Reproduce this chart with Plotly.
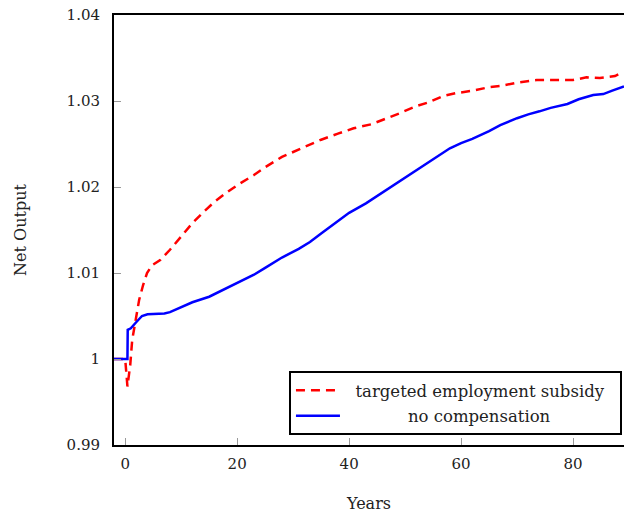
import plotly.graph_objects as go

years_subsidy = [-2, 0, 0.4, 0.9, 1.25, 1.8, 2.5, 3.2, 3.9, 4.8, 6.25, 8, 10, 12, 14, 16, 18, 20, 23, 25, 28,
                 30.7, 32.4, 35, 38, 40.8, 44, 46, 49, 52, 54, 56.8, 59, 62, 65, 67, 70, 73.5, 77, 80,
                 82.4, 84.8, 87.5, 88.4, 89.1]
output_subsidy = [1.0, 1.0, 0.9968, 0.9993, 1.0022, 1.0045, 1.0069, 1.0086, 1.0100, 1.0109, 1.0115, 1.0127,
                  1.0143, 1.0158, 1.0171, 1.0183, 1.0193, 1.0202, 1.0214, 1.0223, 1.0235,
                  1.0243, 1.02477, 1.0255, 1.0262, 1.02683, 1.0273, 1.0278, 1.02857, 1.0294, 1.0298,
                  1.03058, 1.0309, 1.0312, 1.0316, 1.03174, 1.03213, 1.03244, 1.03244, 1.03244,
                  1.03275, 1.03267, 1.0329, 1.0332, 1.0332]

years_nocomp = [-2, 0.4, 0.45, 1, 2, 3, 4, 5, 7, 8, 10, 12, 15, 18, 20, 23, 25, 28, 31, 33, 35, 38, 40,
                43, 46, 48.5, 50, 52.7, 55, 58, 60, 62, 65, 67, 70, 72, 74, 76, 79, 81, 83.6, 85.4,
                87, 88, 89.1]
output_nocomp = [1.0, 1.0, 1.0034, 1.00357, 1.0043, 1.0050, 1.0052, 1.00525, 1.0053, 1.00545, 1.0060,
                 1.0066, 1.00724, 1.0082, 1.0088, 1.0098, 1.0106, 1.0118, 1.0128, 1.0136, 1.0146,
                 1.0160, 1.0170, 1.0181, 1.0194, 1.0204, 1.0211, 1.0222, 1.0232, 1.0245, 1.0251,
                 1.0256, 1.0265, 1.0272, 1.0280, 1.02845, 1.0288, 1.0292, 1.02965, 1.0302, 1.0307,
                 1.0308, 1.0312, 1.03147, 1.0317]

x_ticks = [0, 20, 40, 60, 80]
y_ticks = [0.99, 1.0, 1.01, 1.02, 1.03, 1.04]
y_tick_labels = ["0.99", "1", "1.01", "1.02", "1.03", "1.04"]

FONT = "DejaVu Serif"
NB = "\u00a0"

fig = go.Figure()
fig.add_trace(go.Scatter(
    x=years_subsidy, y=output_subsidy, mode="lines",
    name=NB * 2 + "targeted employment subsidy" + NB * 2, legendgroup="a",
    line=dict(color="#ff0000", width=2.5, dash="9px,6px"),
))
fig.add_trace(go.Scatter(
    x=years_nocomp, y=output_nocomp, mode="lines",
    name=NB * 12 + "no compensation", legendgroup="b",
    line=dict(color="#0000ff", width=2.5),
))

fig.update_layout(
    width=624, height=514,
    margin=dict(l=114, r=0, t=15, b=69),
    paper_bgcolor="white", plot_bgcolor="white",
    font=dict(family=FONT, size=15, color="#222"),
    showlegend=True,
    legend=dict(
        x=0.996, y=0.023, xanchor="right", yanchor="bottom",
        bordercolor="black", borderwidth=2, bgcolor="white",
        font=dict(family=FONT, size=16.5, color="#222"),
        traceorder="grouped", tracegroupgap=1, itemwidth=44,
    ),
)
fig.update_xaxes(
    range=[-2, 89.1], tickvals=x_ticks, ticks="inside", ticklen=7,
    tickcolor="#999", tickwidth=1, showgrid=False, zeroline=False,
    showline=True, linecolor="black", linewidth=2, mirror=True,
    title=dict(text="Years", font=dict(family=FONT, size=16), standoff=26),
    tickfont=dict(family=FONT, size=15), ticklabelstandoff=4,
)
fig.update_yaxes(
    range=[0.99, 1.04], tickvals=y_ticks, ticktext=y_tick_labels, ticks="inside",
    ticklen=7, tickcolor="#999", tickwidth=1, showgrid=False, zeroline=False,
    showline=True, linecolor="black", linewidth=2, mirror=False,
    title=dict(text="Net Output", font=dict(family=FONT, size=16), standoff=36),
    tickfont=dict(family=FONT, size=15), ticklabelstandoff=9,
)

fig.write_html("out.html")
